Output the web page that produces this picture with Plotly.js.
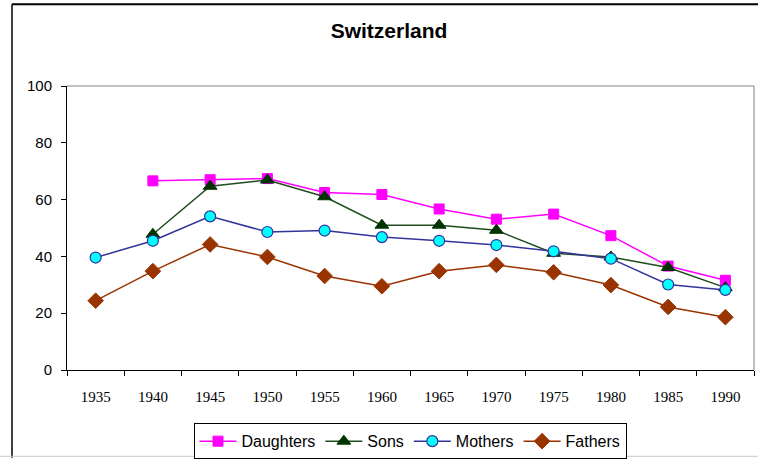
<!DOCTYPE html>
<html>
<head>
<meta charset="utf-8">
<script src="https://cdn.plot.ly/plotly-3.0.1.min.js"></script>
<style>html,body{margin:0;padding:0;background:#fff;}#chart{width:758px;height:463px;}</style>
</head>
<body>
<div id="chart"></div>
<script>
const years = ["1935","1940","1945","1950","1955","1960","1965","1970","1975","1980","1985","1990"];
const daughters = [null, 66.6, 67.0, 67.4, 62.5, 61.8, 56.7, 53.1, 54.9, 47.3, 36.6, 31.6];
const sons      = [null, 47.8, 64.7, 66.9, 61.0, 51.0, 51.0, 49.2, 41.1, 39.8, 36.1, 29.0];
const mothers   = [39.6, 45.5, 54.1, 48.6, 49.1, 46.8, 45.5, 44.0, 41.8, 39.2, 30.1, 28.2];
const fathers   = [24.4, 34.8, 44.2, 39.8, 33.1, 29.5, 34.8, 37.0, 34.4, 29.9, 22.2, 18.6];

const L = 67, T = 86, W = 687, H = 288;
const px = x => (x - L) / W;
const py = y => (T + H - y) / H;

const traces = [
  {name: "Daughters", x: years, y: daughters, mode: "lines+markers",
   line: {color: "#FF00FF", width: 1.5},
   marker: {symbol: "square", size: 10, color: "#FF00FF", line: {color: "#FF00FF", width: 1}}},
  {name: "Sons", x: years, y: sons, mode: "lines+markers",
   line: {color: "#1F4D1F", width: 1.5},
   marker: {symbol: "triangle-up", size: 12, color: "#003300", line: {color: "#003300", width: 1}}},
  {name: "Mothers", x: years, y: mothers, mode: "lines+markers",
   line: {color: "#333399", width: 1.5},
   marker: {symbol: "circle", size: 11, color: "#00FFFF", line: {color: "#333399", width: 1.2}}},
  {name: "Fathers", x: years, y: fathers, mode: "lines+markers",
   line: {color: "#993300", width: 1.5},
   marker: {symbol: "diamond", size: 12, color: "#993300", line: {color: "#993300", width: 1}}}
];

const layout = {
  width: 758, height: 463,
  margin: {l: L, r: 758 - L - W, t: T, b: 463 - T - H},
  paper_bgcolor: "#ffffff", plot_bgcolor: "#ffffff",
  showlegend: true,
  title: {text: "<b>Switzerland</b>", font: {family: "Arial, Liberation Sans", size: 21, color: "#000"},
          x: 389 / 758, xref: "container", xanchor: "center",
          y: 1 - 31 / 463, yref: "container", yanchor: "middle"},
  xaxis: {type: "category", range: [-0.5, 11.5], tickson: "boundaries",
          showline: true, linecolor: "#000", linewidth: 1,
          ticks: "outside", ticklen: 5, tickcolor: "#000", tickwidth: 1,
          showgrid: false, zeroline: false, ticklabelstandoff: 13,
          tickfont: {family: "Liberation Serif, Times New Roman, serif", size: 15, color: "#000"},
          fixedrange: true},
  yaxis: {range: [0, 100], dtick: 20, tick0: 0,
          showline: true, linecolor: "#000", linewidth: 1,
          ticks: "outside", ticklen: 5, tickcolor: "#000", tickwidth: 1,
          showgrid: false, zeroline: false, ticklabelstandoff: 6,
          tickfont: {family: "Arial, Liberation Sans", size: 15, color: "#000"},
          fixedrange: true},
  legend: {orientation: "h", x: px(410), xanchor: "center", y: py(428), yanchor: "top",
           itemwidth: 37,
           bgcolor: "#ffffff", bordercolor: "#000", borderwidth: 1,
           font: {family: "Arial, Liberation Sans", size: 16, color: "#000"}},
  shapes: [
    {type: "line", xref: "paper", yref: "paper", x0: 0, x1: 1, y0: 1, y1: 1, line: {color: "#808080", width: 1}, layer: "below"},
    {type: "line", xref: "paper", yref: "paper", x0: 1, x1: 1, y0: 0, y1: 1, line: {color: "#808080", width: 1}, layer: "below"},
    {type: "line", xref: "paper", yref: "paper", x0: px(12), x1: px(760), y0: py(3), y1: py(3), line: {color: "#000", width: 2}},
    {type: "line", xref: "paper", yref: "paper", x0: px(12), x1: px(12), y0: py(3), y1: py(463), line: {color: "#000", width: 1.5}},
    {type: "line", xref: "paper", yref: "paper", x0: px(0), x1: px(760), y0: py(461.5), y1: py(461.5), line: {color: "#C8C8C8", width: 1}}
  ]
};

Plotly.newPlot("chart", traces, layout, {displayModeBar: false, staticPlot: true});
</script>
</body>
</html>
